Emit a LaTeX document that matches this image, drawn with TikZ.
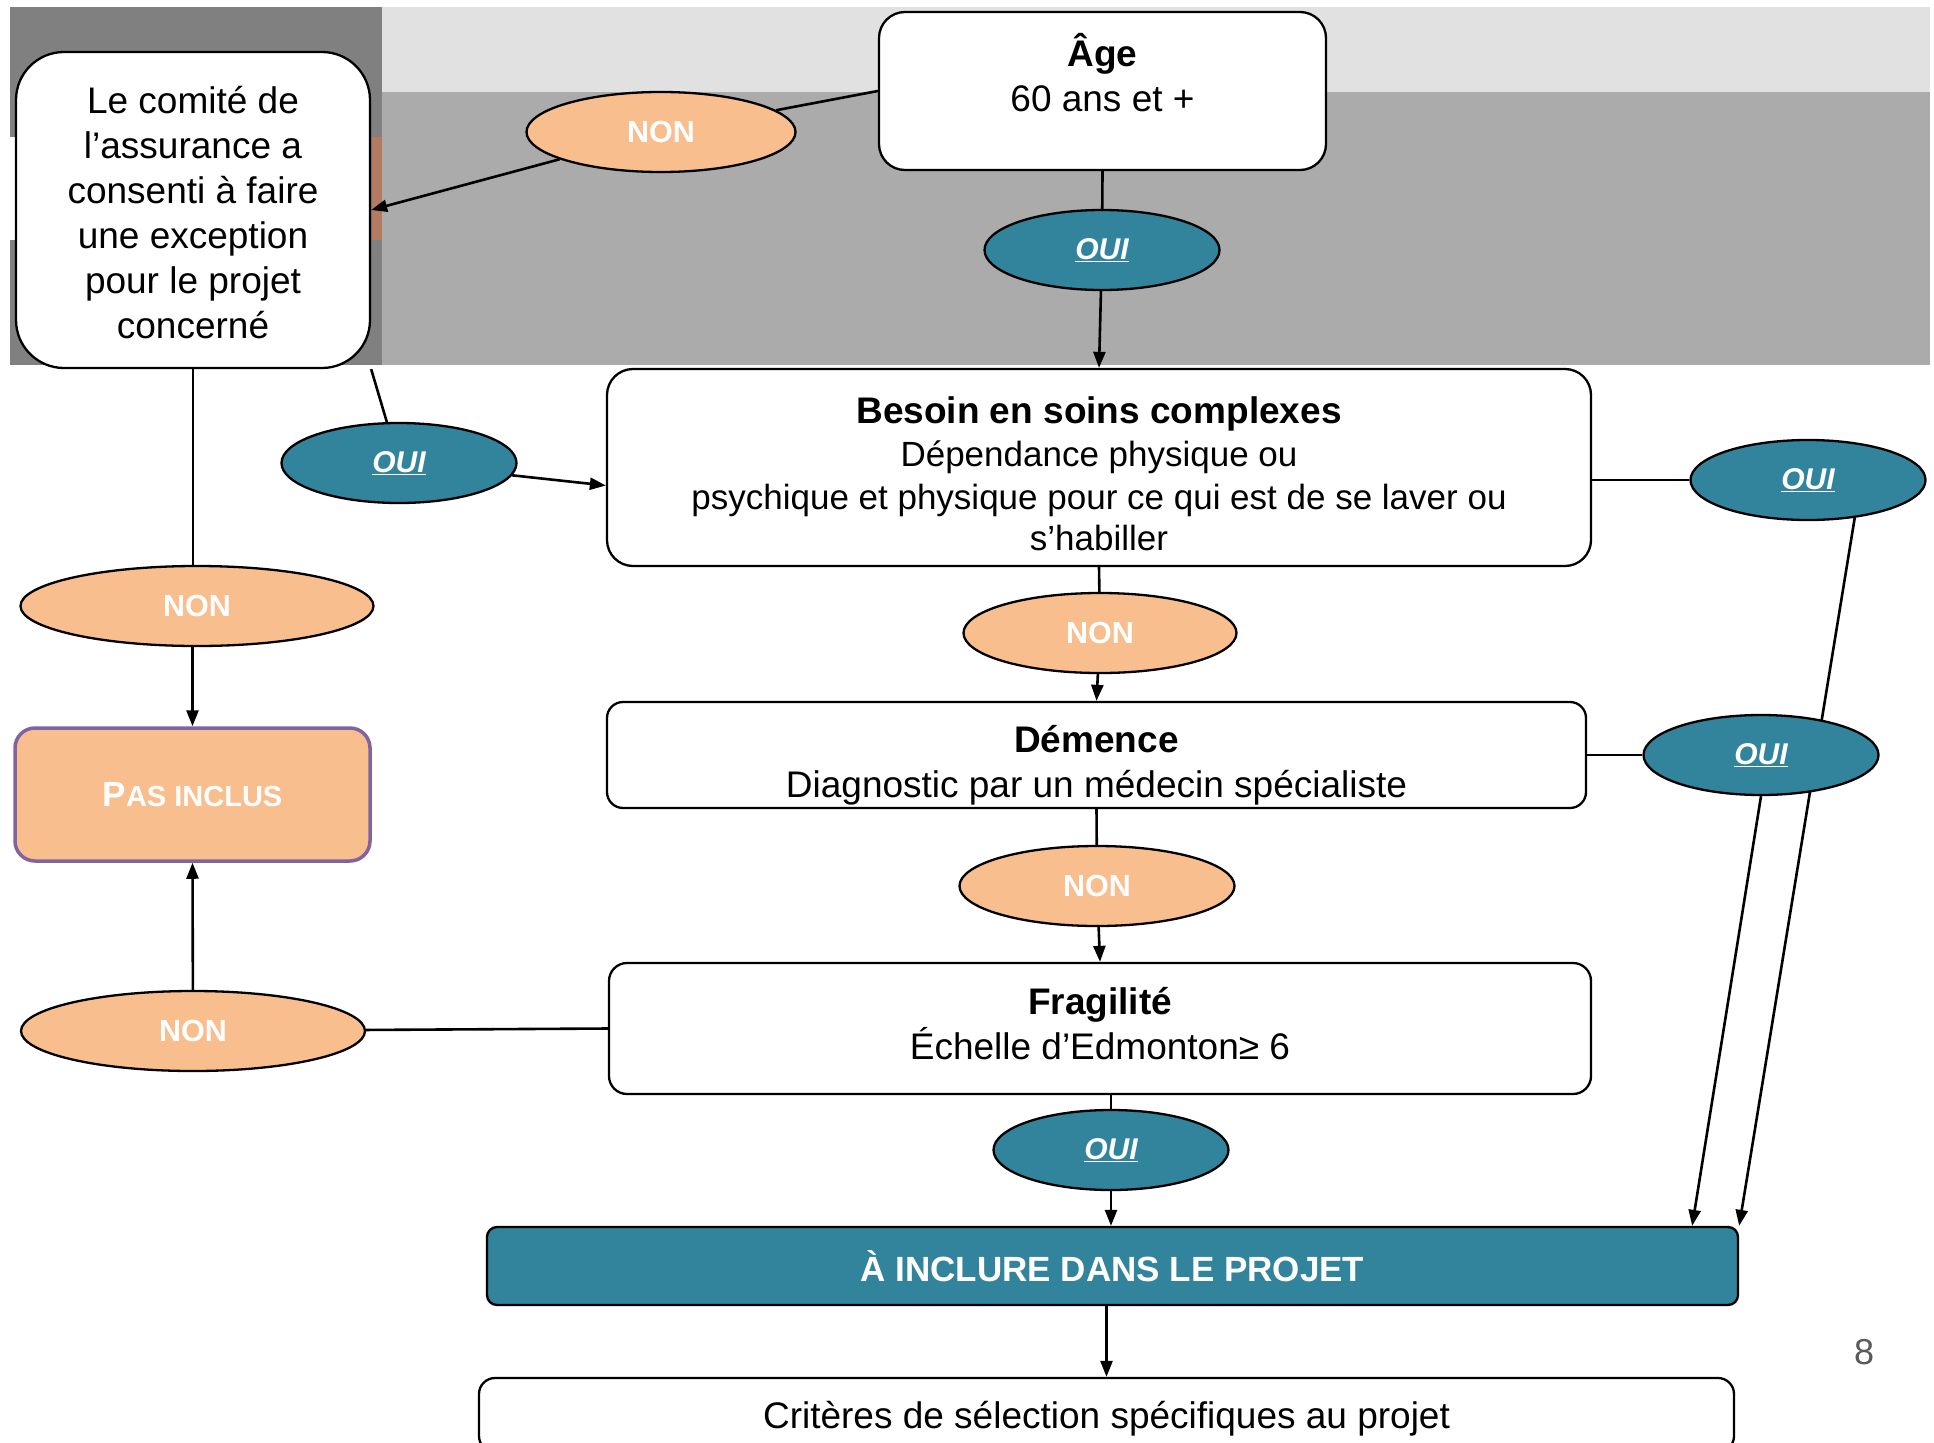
\documentclass[tikz,border=0pt]{standalone}
\usepackage{fontspec}
\setmainfont{Liberation Sans}
\usetikzlibrary{shapes.geometric,arrows.meta,calc}
\definecolor{orangeF}{HTML}{F9BE8E}
\definecolor{tealF}{HTML}{31849B}
\definecolor{purpleB}{HTML}{8064A2}
\definecolor{darkG}{HTML}{808080}
\definecolor{midG}{HTML}{ABABAB}
\definecolor{lightG}{HTML}{E1E1E1}
\definecolor{brownB}{HTML}{B47A62}
\definecolor{pageG}{HTML}{595959}
\pgfdeclarelayer{bg}
\pgfdeclarelayer{edges}
\pgfsetlayers{bg,edges,main}
\tikzset{
  box/.style={draw=black, line width=2.3pt, fill=white, rounded corners=22pt,
    align=center, inner sep=0pt, font=\fontsize{37}{45}\selectfont},
  txt/.style={align=center, inner sep=0pt, font=\fontsize{37}{45}\selectfont},
  nonE/.style={ellipse, draw=black, line width=2.3pt, fill=orangeF, inner sep=0pt,
    minimum height=80pt, text=white, font=\fontsize{30.5}{36}\selectfont\bfseries},
  ouiE/.style={ellipse, draw=black, line width=2.3pt, fill=tealF, inner sep=0pt,
    minimum height=80pt, minimum width=235pt, text=white,
    font=\fontsize{30}{36}\selectfont\bfseries\itshape},
  conn/.style={draw=black, line width=2.6pt},
  arr/.style={conn, -{Triangle[length=16pt,width=12pt]}},
}
\newcommand{\ouitxt}{\underline{OUI}}
\begin{document}
\begin{tikzpicture}[x=1pt,y=-1pt]
\useasboundingbox (0,0) rectangle (1934,1442);
\clip (0,0) rectangle (1934,1442);
\begin{pgfonlayer}{bg}
  \fill[white] (0,0) rectangle (1934,1442);
  \fill[lightG] (382,7) rectangle (1930,92);
  \fill[midG] (382,92) rectangle (1930,365);
  \fill[darkG] (10,7) rectangle (382,365);
  \fill[white] (10,137) rectangle (15,240);
  \fill[brownB] (372,137) rectangle (382,240);
\end{pgfonlayer}

% boxes
\node[box, rounded corners=48pt, minimum width=354pt, minimum height=316pt] (comite) at (193,210) {};
\node[txt] (comitetxt) at (193,213)
  {Le comité de\\l’assurance a\\consenti à faire\\une exception\\pour le projet\\concerné};
\node[box, rounded corners=26pt, minimum width=447pt, minimum height=158pt] (age) at (1102.5,91) {};
\node[txt] (agetxt) at (1102.5,73) {\textbf{Âge}\\60 ans et +};
\node[box, rounded corners=26pt, minimum width=984pt, minimum height=197pt] (besoin) at (1099,467.5) {};
\node[txt] (besointxt) at (1099,474)
  {\textbf{Besoin en soins complexes}\\[-2pt]
   \fontsize{35}{43}\selectfont Dépendance physique ou\\[-2pt]
   \fontsize{35}{43}\selectfont psychique et physique pour ce qui est de se laver ou\\[-4pt]
   \fontsize{35}{43}\selectfont s’habiller};
\node[box, rounded corners=16pt, minimum width=979pt, minimum height=106pt] (demence) at (1096.5,755) {};
\node[txt] (demencetxt) at (1096.5,765)
  {\textbf{Démence}\\Diagnostic par un médecin spécialiste};
\node[box, rounded corners=18pt, minimum width=982pt, minimum height=131pt] (fragilite) at (1100,1028.5) {};
\node[txt] (fragilitetxt) at (1100,1023.5)
  {\textbf{Fragilité}\\Échelle d’Edmonton≥ 6};
\node[box, draw=purpleB, line width=3.5pt, fill=orangeF, rounded corners=20pt,
  minimum width=355pt, minimum height=133pt, text=white] (pas) at (192.5,794.5)
  {\bfseries{\fontsize{35}{40}\selectfont P}{\fontsize{29}{40}\selectfont AS INCLUS}};
\node[box, fill=tealF, rounded corners=10pt, minimum width=1251pt, minimum height=78pt,
  text=white, font=\fontsize{35}{40}\selectfont\bfseries] (inclure) at (1112.5,1266)
  {À INCLURE DANS LE PROJET};
\node[box, rounded corners=16pt, minimum width=1255pt, minimum height=74pt] (criteres) at (1106.5,1415) {};
\node[txt] (criterestxt) at (1106.5,1419) {Critères de sélection spécifiques au projet};
\node[txt, text=pageG, font=\fontsize{36}{40}\selectfont] (page) at (1864,1352) {8};

% ellipses
\node[nonE, minimum width=269pt] (nonA) at (661,132) {NON};
\node[ouiE] (ouiA) at (1102,250) {\ouitxt};
\node[ouiE] (ouiL) at (399,463) {\ouitxt};
\node[ouiE] (ouiR1) at (1808,480) {\ouitxt};
\node[nonE, minimum width=353pt] (nonL) at (197,606) {NON};
\node[nonE, minimum width=273pt] (nonC1) at (1100,633) {NON};
\node[ouiE] (ouiR2) at (1761,755) {\ouitxt};
\node[nonE, minimum width=275pt] (nonC2) at (1097,886) {NON};
\node[nonE, minimum width=344pt] (nonLB) at (193,1031) {NON};
\node[ouiE] (ouiB) at (1111,1150) {\ouitxt};

% connectors
\begin{pgfonlayer}{edges}
  \draw[conn] (age.west) -- (nonA);
  \draw[arr] (nonA) -- (comite.east);
  \draw[conn] (age.south) -- (ouiA);
  \draw[arr] (ouiA) -- (besoin.north);
  \draw[conn] (comite.south east) -- (ouiL);
  \draw[arr] (ouiL) -- ($(besoin.west)+(0,18)$);
  \draw[conn] (comite.south) -- (comite.south |- nonL.north);
  \draw[arr] (pas.north |- nonL.south) -- (pas.north);
  \draw[conn] (besoin.south) -- (nonC1);
  \draw[arr] (nonC1) -- (demence.north);
  \draw[conn] (besoin.east |- ouiR1) -- (ouiR1);
  \draw[arr] (ouiR1.-39) -- (inclure.north east);
  \draw[conn] (demence.east) -- (ouiR2);
  \draw[arr] (ouiR2.south) -- ($(inclure.north east)+(-47,0)$);
  \draw[conn] (demence.south) -- (nonC2);
  \draw[arr] (nonC2) -- (fragilite.north);
  \draw[conn] (fragilite.west) -- (nonLB);
  \draw[arr] (nonLB) -- (pas.south);
  \draw[conn] (fragilite.south -| ouiB) -- (ouiB);
  \draw[arr] (ouiB) -- (inclure.north -| ouiB);
  \draw[arr] (inclure.south -| criteres.north) -- (criteres.north);
\end{pgfonlayer}
\end{tikzpicture}
\end{document}
